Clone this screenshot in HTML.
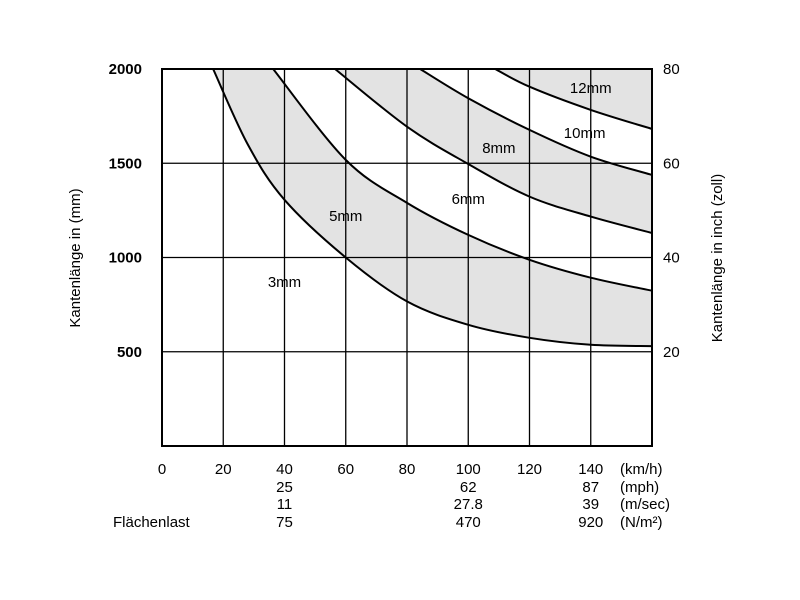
<!DOCTYPE html>
<html><head><meta charset="utf-8"><style>
body{margin:0;background:#fff}
svg{display:block;font-family:"Liberation Sans",sans-serif}
</style></head><body>
<svg id="chart" width="800" height="600">
<defs><clipPath id="pc"><rect x="162" y="69" width="490" height="377"/></clipPath></defs>
<g id="fills" clip-path="url(#pc)"></g>
<g id="grid"></g>
<g id="curves" clip-path="url(#pc)"></g>
<rect x="162" y="69" width="490" height="377" fill="none" stroke="#000" stroke-width="2"/>
<g id="labels" font-size="15" fill="#000"></g>
<text transform="translate(80,258) rotate(-90)" text-anchor="middle" font-size="15">Kantenlänge in (mm)</text>
<text transform="translate(722,258) rotate(-90)" text-anchor="middle" font-size="15">Kantenlänge in inch (zoll)</text>
</svg>
<script>
const xTicks=[0,20,40,60,80,100,120,140];
const yTicksLeft=[500,1000,1500,2000];
const yTicksRight=[20,40,60,80];
const mphVals=[[40,"25"],[100,"62"],[140,"87"]];
const msVals=[[40,"11"],[100,"27.8"],[140,"39"]];
const nVals=[[40,"75"],[100,"470"],[140,"920"]];
const curveX3=[16.7,28,40,60,80,100,120,140,160];
const curveY3=[2000,1600,1306,1000,767,643,574,537,530];
const curveX5=[36.3,60,80,100,120,140,160];
const curveY5=[2000,1518,1290,1120,988,893,824];
const curveX6=[56.5,80,100,120,140,160];
const curveY6=[2000,1694,1496,1323,1217,1130];
const curveX8=[84.3,100,120,140,160];
const curveY8=[2000,1845,1677,1535,1438];
const curveX10=[108.8,120,140,160];
const curveY10=[2000,1906,1783,1682];
const curveLabels=[["3mm",40,870],["5mm",60,1220],["6mm",100,1310],["8mm",110,1580],["10mm",138,1660],["12mm",140,1900]];
const X=v=>162+v*3.0625, Y=v=>446-v*0.1885;
const NS="http://www.w3.org/2000/svg";
function mk(tag,attrs,parent,txt){const e=document.createElementNS(NS,tag);for(const k in attrs)e.setAttribute(k,attrs[k]);if(txt!==undefined)e.textContent=txt;parent.appendChild(e);return e;}
function smooth(xs,ys){const p=xs.map((x,i)=>[X(x),Y(ys[i])]);let d=`M${p[0][0]},${p[0][1]}`;
for(let i=0;i<p.length-1;i++){const p0=p[Math.max(0,i-1)],p1=p[i],p2=p[i+1],p3=p[Math.min(p.length-1,i+2)];
d+=` C${p1[0]+(p2[0]-p0[0])/6},${p1[1]+(p2[1]-p0[1])/6} ${p2[0]-(p3[0]-p1[0])/6},${p2[1]-(p3[1]-p1[1])/6} ${p2[0]},${p2[1]}`;}return d;}
const fills=document.getElementById('fills'),grid=document.getElementById('grid'),curves=document.getElementById('curves'),labels=document.getElementById('labels');
const sets=[[curveX3,curveY3,'#e3e3e3'],[curveX5,curveY5,'#fff'],[curveX6,curveY6,'#e3e3e3'],[curveX8,curveY8,'#fff'],[curveX10,curveY10,'#e3e3e3']];
sets.forEach(([xs,ys,c],i)=>{const d=smooth(xs,ys)+` L${X(170)},${Y(ys[ys.length-1])} L${X(170)},${Y(2100)} L${X(xs[0])},${Y(2100)} Z`;
const f=mk('path',{d:d,fill:c},fills);

});
for(let v=20;v<=140;v+=20){const l=mk('line',{x1:X(v),x2:X(v),y1:69,y2:446,stroke:'#000','stroke-width':1.3},grid);

}
[500,1000,1500].forEach(v=>{const l=mk('line',{x1:162,x2:652,y1:Y(v),y2:Y(v),stroke:'#000','stroke-width':1.3},grid);

});
sets.forEach(([xs,ys],i)=>{const c=mk('path',{d:smooth(xs,ys),fill:'none',stroke:'#000','stroke-width':2},curves);

});
curveLabels.forEach(([t,x,y])=>{const e=mk('text',{x:X(x),y:Y(y)+5,'text-anchor':'middle'},labels,t);

});
yTicksLeft.forEach(v=>{const e=mk('text',{x:142,y:Y(v)+5,'text-anchor':'end','font-weight':'bold'},labels,v);

});
yTicksRight.forEach(v=>{const e=mk('text',{x:663,y:Y(v*25)+5},labels,v);

});
xTicks.forEach(v=>{const e=mk('text',{x:X(v),y:474,'text-anchor':'middle'},labels,v);

});
[[mphVals,492,'mph'],[msVals,509,'ms'],[nVals,527,'nm2']].forEach(([arr,y,n])=>arr.forEach(([x,t])=>{const e=mk('text',{x:X(x),y:y,'text-anchor':'middle'},labels,t);

}));
[["(km/h)",474],["(mph)",492],["(m/sec)",509],["(N/m²)",527]].forEach(([t,y])=>{const e=mk('text',{x:620,y:y},labels,t);

});
const fl=mk('text',{x:113,y:527},labels,'Flächenlast');


</script>
</body></html>
